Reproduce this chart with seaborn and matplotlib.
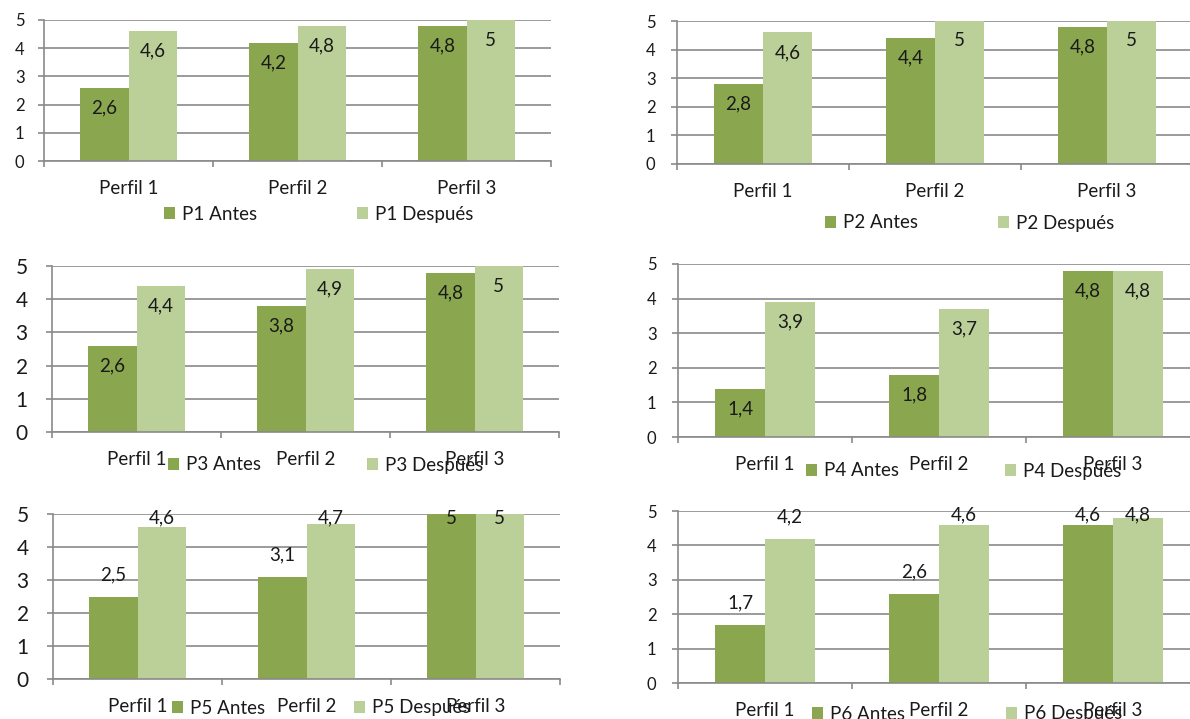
import matplotlib
matplotlib.use("Agg")
import matplotlib.pyplot as plt
import seaborn as sns
import pandas as pd
from matplotlib.patches import Patch

# ---- data -------------------------------------------------------------
perfiles = ["Perfil 1", "Perfil 2", "Perfil 3"]

p1_antes = [2.6, 4.2, 4.8]
p1_despues = [4.6, 4.8, 5.0]
p2_antes = [2.8, 4.4, 4.8]
p2_despues = [4.6, 5.0, 5.0]
p3_antes = [2.6, 3.8, 4.8]
p3_despues = [4.4, 4.9, 5.0]
p4_antes = [1.4, 1.8, 4.8]
p4_despues = [3.9, 3.7, 4.8]
p5_antes = [2.5, 3.1, 5.0]
p5_despues = [4.6, 4.7, 5.0]
p6_antes = [1.7, 2.6, 4.6]
p6_despues = [4.2, 4.6, 4.8]

y_ticks = [0, 1, 2, 3, 4, 5]

# ---- style ------------------------------------------------------------
sns.set_theme(style="white")
plt.rcParams["font.family"] = ["Lato", "DejaVu Sans"]

C_ANTES = "#8aa64f"
C_DESPUES = "#bbcf98"
GRID = "#8a8a8a"
TEXT = "#1a1a1a"

W, H = 1190, 719
fig = plt.figure(figsize=(W / 100, H / 100), dpi=100)

# panel layout in pixels: left, right, y of value 0, y of value 5
panels = [
    dict(tag="P1", antes=p1_antes, despues=p1_despues, box=(44, 551, 161, 20),
         ysize=12, ypad=9.5, labels="inside", leg=((164, 357), 214)),
    dict(tag="P2", antes=p2_antes, despues=p2_despues, box=(677, 1193, 164, 21),
         ysize=12, ypad=11, labels="inside", leg=((825, 998), 223)),
    dict(tag="P3", antes=p3_antes, despues=p3_despues, box=(52, 559, 432, 266),
         ysize=15, ypad=13, labels="inside", leg=((168, 367), 465)),
    dict(tag="P4", antes=p4_antes, despues=p4_despues, box=(678, 1200, 437, 264),
         ysize=12, ypad=11, labels="inside", leg=((806, 1005), 471)),
    dict(tag="P5", antes=p5_antes, despues=p5_despues, box=(53, 560, 679, 514),
         ysize=15, ypad=13, labels="outside", leg=((172, 354), 708)),
    dict(tag="P6", antes=p6_antes, despues=p6_despues, box=(678, 1200, 683, 511),
         ysize=12, ypad=11, labels="outside", leg=((812, 1006), 714)),
]


def fmt(v):
    return f"{v:g}".replace(".", ",")


for p in panels:
    left, right, y0, y5 = p["box"]
    ax = fig.add_axes([left / W, 1 - y0 / H, (right - left) / W, (y0 - y5) / H])

    s_antes = f"{p['tag']} Antes"
    s_desp = f"{p['tag']} Después"
    df = pd.DataFrame({
        "perfil": perfiles * 2,
        "valor": p["antes"] + p["despues"],
        "serie": [s_antes] * 3 + [s_desp] * 3,
    })
    sns.barplot(data=df, x="perfil", y="valor", hue="serie",
                palette=[C_ANTES, C_DESPUES], saturation=1, width=0.57,
                linewidth=0, legend=False, ax=ax, errorbar=None)

    ax.set_xlim(-0.5, 2.5)
    ax.set_ylim(0, 5)
    ax.set_xlabel("")
    ax.set_ylabel("")
    ax.set_axisbelow(True)

    # gridlines and axis lines
    ax.set_yticks(y_ticks)
    ax.set_yticklabels([str(t) for t in y_ticks], fontsize=p["ysize"], color=TEXT)
    ax.yaxis.grid(True, color=GRID, linewidth=1.2)
    ax.xaxis.grid(False)
    for side in ("top", "right"):
        ax.spines[side].set_visible(False)
    for side in ("left", "bottom"):
        ax.spines[side].set_color(GRID)
        ax.spines[side].set_linewidth(1.2)

    # category boundaries get tick marks, category centres get the names
    ax.set_xticks([-0.5, 0.5, 1.5, 2.5])
    ax.set_xticklabels([])
    ax.set_xticks([0, 1, 2], minor=True)
    ax.set_xticklabels(perfiles, minor=True, fontsize=13.5, color=TEXT)
    ax.tick_params(axis="x", which="major", bottom=True, length=4.5,
                   width=1.2, color=GRID, direction="out")
    ax.tick_params(axis="x", which="minor", bottom=True, length=0, pad=14)
    ax.tick_params(axis="y", which="major", left=True, length=4.5,
                   width=1.2, color=GRID, direction="out", pad=p["ypad"])

    # value labels
    ppu = (y0 - y5) / 5.0
    for cont in ax.containers:
        for bar in cont:
            v = bar.get_height()
            xc = bar.get_x() + bar.get_width() / 2
            if p["labels"] == "inside":
                yc = v - 20 / ppu
            else:
                yc = min(v + 22 / ppu, 5 - 4 / ppu)
            ax.text(xc, yc, fmt(v), ha="center", va="center",
                    fontsize=13.5, color=TEXT)

    # legend: two entries placed side by side
    (xa, xd), yl = p["leg"]
    for xpos, lab, col in ((xa, s_antes, C_ANTES), (xd, s_desp, C_DESPUES)):
        lg = fig.legend(handles=[Patch(facecolor=col, edgecolor="none", label=lab)],
                        loc="center left",
                        bbox_to_anchor=(xpos / W, 1 - yl / H),
                        bbox_transform=fig.transFigure,
                        frameon=False, fontsize=13.5, borderpad=0,
                        borderaxespad=0, handlelength=0.6, handleheight=0.6,
                        handletextpad=0.35)
        for t in lg.get_texts():
            t.set_color(TEXT)

fig.savefig("out.png", dpi=100)
